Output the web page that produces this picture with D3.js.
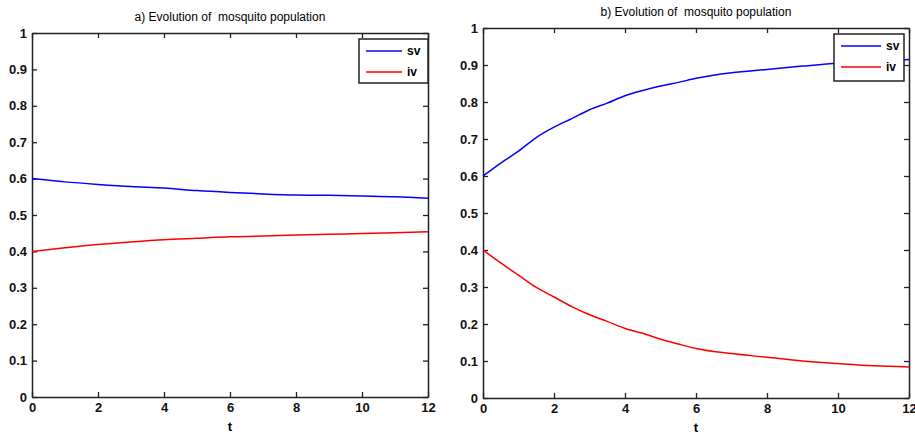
<!DOCTYPE html>
<html>
<head>
<meta charset="utf-8">
<script src="https://cdn.jsdelivr.net/npm/d3@7"></script>
<style>
  body { margin: 0; background: #fff; }
  svg text { font-family: "Liberation Sans", Arial, sans-serif; fill: #000; white-space: pre; }
</style>
</head>
<body>
<div id="main"></div>
<script>
// time points
const tA = [0, 1, 2, 3, 4, 5, 6, 7, 8, 9, 10, 11, 12];
const svA = [0.600, 0.591, 0.584, 0.578, 0.574, 0.567, 0.562, 0.558, 0.555, 0.554, 0.552, 0.550, 0.546];
const ivA = [0.400, 0.410, 0.419, 0.426, 0.432, 0.436, 0.440, 0.442, 0.445, 0.447, 0.449, 0.451, 0.454];

const tB = [0, 0.5, 1, 1.5, 2, 2.5, 3, 3.5, 4, 4.5, 5, 5.5, 6, 7, 8, 9, 10, 11, 12];
const svB = [0.600, 0.635, 0.667, 0.704, 0.732, 0.755, 0.779, 0.797, 0.817, 0.831, 0.843, 0.853, 0.864, 0.879, 0.888, 0.897, 0.905, 0.909, 0.915];
const ivB = [0.400, 0.365, 0.332, 0.299, 0.273, 0.247, 0.225, 0.207, 0.188, 0.175, 0.159, 0.146, 0.134, 0.120, 0.110, 0.100, 0.093, 0.087, 0.084];

const xTicks = [0, 2, 4, 6, 8, 10, 12];
const yTicks = [0, 0.1, 0.2, 0.3, 0.4, 0.5, 0.6, 0.7, 0.8, 0.9, 1];
const seriesNames = ['sv', 'iv'];
const seriesColors = ['#0000ff', '#ff0000'];
const titles = ['a) Evolution of  mosquito population', 'b) Evolution of  mosquito population'];

const svg = d3.select('#main')
  .append('svg')
  .attr('width', 915)
  .attr('height', 435);

const fmt = (d) => (d === 0 || d === 1 ? String(d) : d3.format('.1f')(d));

function drawPanel(box, t, series, title, legendBox) {
  const x = d3.scaleLinear().domain([0, 12]).range([box.left, box.right]);
  const y = d3.scaleLinear().domain([0, 1]).range([box.bottom, box.top]);
  const g = svg.append('g');

  // matlab style box with inward ticks on all four sides
  g.append('g')
    .attr('transform', `translate(0,${box.bottom})`)
    .call(d3.axisBottom(x).tickValues(xTicks).tickSizeInner(-5).tickSizeOuter(0).tickPadding(6).tickFormat(d3.format('d')));
  g.append('g')
    .attr('transform', `translate(0,${box.top})`)
    .call(d3.axisTop(x).tickValues(xTicks).tickSizeInner(-5).tickSizeOuter(0).tickFormat(''));
  g.append('g')
    .attr('transform', `translate(${box.left},0)`)
    .call(d3.axisLeft(y).tickValues(yTicks).tickSizeInner(-5).tickSizeOuter(0).tickPadding(5).tickFormat(fmt));
  g.append('g')
    .attr('transform', `translate(${box.right},0)`)
    .call(d3.axisRight(y).tickValues(yTicks).tickSizeInner(-5).tickSizeOuter(0).tickFormat(''));

  g.selectAll('.domain').attr('stroke', '#222').attr('stroke-width', 1.5);
  g.selectAll('.tick line').attr('stroke', '#222').attr('stroke-width', 1.3);
  g.selectAll('.tick text')
    .style('font-size', '13px')
    .style('font-weight', 'bold')
    .style('fill', '#111');

  const line = d3.line()
    .x((d, i) => x(t[i]))
    .y((d) => y(d))
    .curve(d3.curveMonotoneX);

  series.forEach((s, k) => {
    g.append('path')
      .datum(s)
      .attr('fill', 'none')
      .attr('stroke', seriesColors[k])
      .attr('stroke-width', 1.5)
      .attr('d', line);
  });

  g.append('text')
    .attr('x', (box.left + box.right) / 2)
    .attr('y', box.top - 12)
    .attr('text-anchor', 'middle')
    .style('font-size', '12px')
    .text(title);

  g.append('text')
    .attr('x', (box.left + box.right) / 2)
    .attr('y', box.bottom + 34)
    .attr('text-anchor', 'middle')
    .style('font-size', '13px')
    .style('font-weight', 'bold')
    .text('t');

  // legend
  const lg = g.append('g');
  lg.append('rect')
    .attr('x', legendBox.x)
    .attr('y', legendBox.y)
    .attr('width', legendBox.w)
    .attr('height', legendBox.h)
    .attr('fill', '#fff')
    .attr('stroke', '#222')
    .attr('stroke-width', 1.5);
  seriesNames.forEach((name, k) => {
    const ly = legendBox.y + 12 + k * 21;
    lg.append('line')
      .attr('x1', legendBox.x + 7)
      .attr('x2', legendBox.x + 7 + legendBox.len)
      .attr('y1', ly)
      .attr('y2', ly)
      .attr('stroke', seriesColors[k])
      .attr('stroke-width', 1.5);
    lg.append('text')
      .attr('x', legendBox.x + 12 + legendBox.len)
      .attr('y', ly + 4)
      .style('font-size', '12px')
      .style('font-weight', 'bold')
      .text(name);
  });
}

drawPanel({ left: 32, right: 428, top: 33, bottom: 397 }, tA, [svA, ivA], titles[0],
  { x: 359, y: 39, w: 69, h: 44, len: 36 });
drawPanel({ left: 483, right: 909, top: 28, bottom: 398 }, tB, [svB, ivB], titles[1],
  { x: 834, y: 34, w: 70, h: 47, len: 40 });
</script>
</body>
</html>
